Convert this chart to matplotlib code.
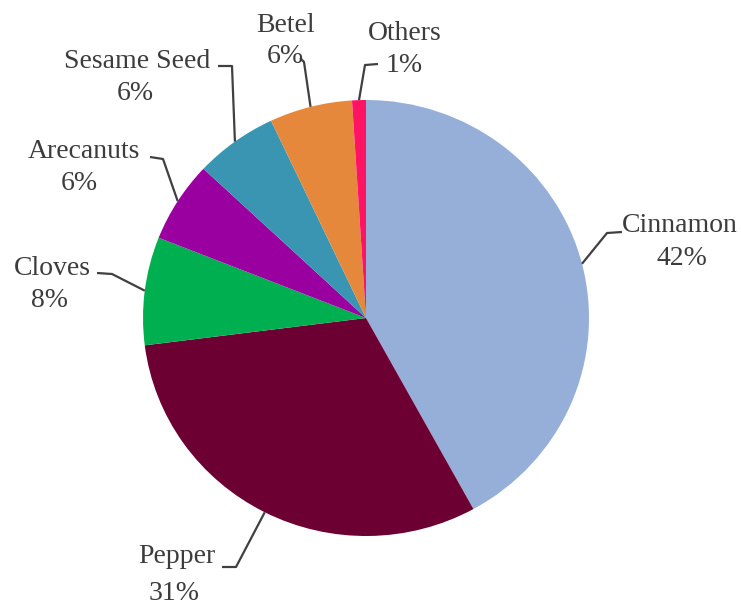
import matplotlib
matplotlib.use("Agg")
import matplotlib.pyplot as plt
import numpy as np

categories = ["Cinnamon", "Pepper", "Cloves", "Arecanuts", "Sesame Seed", "Betel", "Others"]
values = [42, 31, 8, 6, 6, 6, 1]
colors = ["#95AFD8", "#6C0032", "#00B050", "#9A00A0", "#3A95B2", "#E5883C", "#FF1464"]

W, H = 741, 605
cx, cy, rx, ry = 366, 318, 223, 218

# label layout in pixels: (x_name, baseline_name, x_pct, baseline_pct, stub points)
layout = {
    "Cinnamon":    (680, 232, 682, 265, [(622, 232), (607, 233)]),
    "Pepper":      (177, 563, 174, 600, [(222, 567), (236, 567)]),
    "Cloves":      (52, 275, 49, 307, [(97, 273), (112, 274)]),
    "Arecanuts":   (84, 158, 79, 190, [(150, 157), (163, 159)]),
    "Sesame Seed": (137, 68, 135, 100, [(218, 66), (232, 66)]),
    "Betel":       (286, 32, 285, 63, [(300, 58), (304, 62)]),
    "Others":      (405, 40, 404, 72, [(378, 64), (365, 65)]),
}

fig = plt.figure(figsize=(W / 100, H / 100), dpi=100)
fig.patch.set_facecolor("white")

ax = fig.add_axes([(cx - rx) / W, (H - cy - ry) / H, 2 * rx / W, 2 * ry / H])
ax.pie(values, colors=colors, startangle=90, counterclock=False,
       radius=1, wedgeprops=dict(linewidth=0))
ax.set_xlim(-1, 1)
ax.set_ylim(-1, 1)
ax.set_aspect("auto")
ax.axis("off")

ov = fig.add_axes([0, 0, 1, 1])
ov.set_xlim(0, W)
ov.set_ylim(H, 0)
ov.axis("off")
ov.patch.set_alpha(0)

total = sum(values)
cum = 0
txtcol = "#3c3c3c"
for name, v in zip(categories, values):
    mid = (cum + v / 2) / total * 360
    cum += v
    ang = np.deg2rad(90 - mid)
    ex = cx + rx * np.cos(ang)
    ey = cy - ry * np.sin(ang)
    xn, yn, xp, yp, stub = layout[name]
    pts = stub + [(ex, ey)]
    ov.plot([p[0] for p in pts], [p[1] for p in pts], color="#404040", lw=1.6,
            solid_capstyle="butt")
    ov.text(xn, yn, name, ha="center", va="baseline", fontsize=20,
            family="Liberation Serif", color=txtcol)
    ov.text(xp, yp, f"{v}%", ha="center", va="baseline", fontsize=20,
            family="Liberation Serif", color=txtcol)

fig.savefig("out.png", dpi=100, facecolor="white")
